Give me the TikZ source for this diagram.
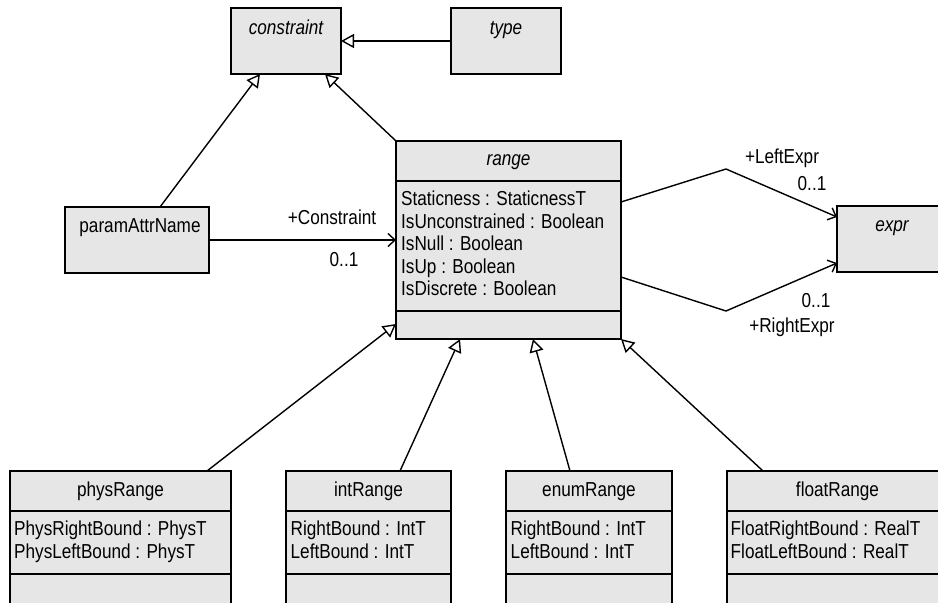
\documentclass[tikz,border=0pt]{standalone}
\usepackage{fontspec}
\setmainfont{Liberation Sans}[FakeStretch=0.85]
\usetikzlibrary{arrows.meta}
\definecolor{boxgray}{RGB}{230,230,230}
\newcommand{\umlfont}{\fontsize{20.2}{22.5}\selectfont}

\begin{document}
\begin{tikzpicture}[x=1pt,y=-1pt,
		every node/.style={font=\umlfont},
		classbox/.style={draw,line width=1.7,fill=boxgray,anchor=north west,inner sep=0,outer sep=0},
		title/.style={anchor=base,inner sep=0},
		abstract/.style={title,font=\umlfont\itshape},
		attrs/.style={anchor=base west,inner sep=0,align=left},
		role/.style={anchor=base,inner sep=0},
		gen/.style={line width=1.4,-{Triangle[open,length=13pt,width=14pt]}},
		assoc/.style={line width=1.4,-{Straight Barb[length=7pt,width=13pt]}}]
	\useasboundingbox (0,0) rectangle (938,603);
	\clip (0,0) rectangle (938,603);

	\node[classbox,minimum width=110pt,minimum height=66pt] (constraint) at (231,8) {};
	\node[abstract] (constraint title) at (286,34) {constraint};
	\node[classbox,minimum width=110pt,minimum height=66pt] (type) at (451,8) {};
	\node[abstract] (type title) at (506,34) {type};
	\node[classbox,minimum width=144pt,minimum height=66pt] (paramAttrName) at (65,207) {};
	\node[title] (paramAttrName title) at (140,232) {paramAttrName};
	\node[classbox,minimum width=110pt,minimum height=66pt] (expr) at (837,206) {};
	\node[abstract] (expr title) at (892,231) {expr};

	\node[classbox,minimum width=225pt,minimum height=198pt] (range) at (396,141) {};
	\draw[line width=1.7] ([yshift=-40pt]range.north west) -- ([yshift=-40pt]range.north east);
	\draw[line width=1.7] ([yshift=-170pt]range.north west) -- ([yshift=-170pt]range.north east);
	\node[abstract] (range title) at (508.5,165) {range};
	\node[attrs] (range attrs) at (401,295.5) {Staticness : StaticnessT\\IsUnconstrained : Boolean\\IsNull : Boolean\\IsUp : Boolean\\IsDiscrete : Boolean};

	\node[classbox,minimum width=221pt,minimum height=149pt] (physRange) at (10,471) {};
	\node[classbox,minimum width=165pt,minimum height=149pt] (intRange) at (286,471) {};
	\node[classbox,minimum width=166pt,minimum height=149pt] (enumRange) at (506,471) {};
	\node[classbox,minimum width=221pt,minimum height=149pt] (floatRange) at (727,471) {};
	\foreach \cls in {physRange,intRange,enumRange,floatRange} {
		\draw[line width=1.7] ([yshift=-40pt]\cls.north west) -- ([yshift=-40pt]\cls.north east);
		\draw[line width=1.7] ([yshift=-103pt]\cls.north west) -- ([yshift=-103pt]\cls.north east);
	}
	\node[title] (physRange title) at (120.5,496.5) {physRange};
	\node[title] (intRange title) at (368.5,496.5) {intRange};
	\node[title] (enumRange title) at (589,496.5) {enumRange};
	\node[title] (floatRange title) at (837.5,496.5) {floatRange};
	\node[attrs,font=\fontsize{20.2}{23.3}\selectfont] (physRange attrs) at (14,558.8) {PhysRightBound : PhysT\\PhysLeftBound : PhysT};
	\node[attrs,font=\fontsize{20.2}{23.3}\selectfont] (intRange attrs) at (290.5,558.8) {RightBound : IntT\\LeftBound : IntT};
	\node[attrs,font=\fontsize{20.2}{23.3}\selectfont] (enumRange attrs) at (510.5,558.8) {RightBound : IntT\\LeftBound : IntT};
	\node[attrs,font=\fontsize{20.2}{23.3}\selectfont] (floatRange attrs) at (730.5,558.8) {FloatRightBound : RealT\\FloatLeftBound : RealT};

	\draw[gen] (type.west) -- (constraint.east);
	\draw[gen] ([xshift=23pt]paramAttrName.north) -- ([xshift=-26pt]constraint.south);
	\draw[gen] (range.north west) -- ([xshift=39pt]constraint.south);
	\draw[gen] ([xshift=86.5pt]physRange.north) -- ([yshift=-84pt]range.west);
	\draw[gen] ([xshift=31.5pt]intRange.north) -- ([xshift=-48.5pt]range.south);
	\draw[gen] ([xshift=-19pt]enumRange.north) -- ([xshift=24.5pt]range.south);
	\draw[gen] ([xshift=-74.5pt]floatRange.north) -- (range.south east);

	\coordinate (leftbend) at (726,169);
	\coordinate (rightbend) at (726,311);
	\draw[assoc] (paramAttrName.east) -- (paramAttrName.east -| range.west);
	\draw[assoc] ([yshift=38pt]range.east) -- (leftbend) -- ([yshift=22pt]expr.west);
	\draw[assoc] ([yshift=-37pt]range.east) -- (rightbend) -- ([yshift=-24pt]expr.west);

	\node[role] (constraint role) at (332,224) {+Constraint};
	\node[role] (constraint mult) at (344,266) {0..1};
	\node[role] (left role) at (782,163) {+LeftExpr};
	\node[role] (left mult) at (812,190) {0..1};
	\node[role] (right mult) at (816,307) {0..1};
	\node[role] (right role) at (792,332) {+RightExpr};
\end{tikzpicture}
\end{document}
